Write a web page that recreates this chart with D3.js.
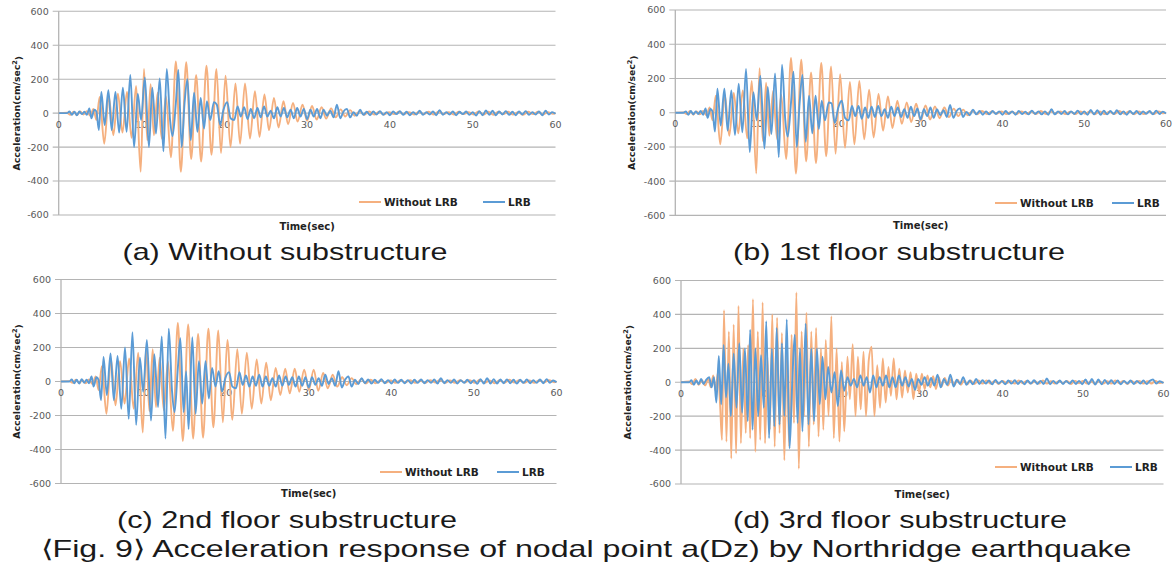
<!DOCTYPE html>
<html>
<head>
<meta charset="utf-8">
<script src="https://cdn.jsdelivr.net/npm/d3@7"></script>
<style>
  body { margin: 0; background: #fff; }
  svg { display: block; }
</style>
</head>
<body>
<svg width="1175" height="574"></svg>
<script>
// values: [time (sec), acceleration (cm/sec2)] at turning points
var aWithout = [[0,0],[1.0,2],[1.4,-10],[1.8,8],[2.2,-12],[2.6,10],[3.0,-8],[3.4,12],[3.8,-15],[4.2,25],[4.55,-40],[4.95,95],[5.5,-180],[6.05,100],[6.6,-130],[7.15,115],[7.7,-115],[8.25,125],[8.8,-145],[9.35,160],[9.9,-345],[10.3,260],[10.7,-160],[11.1,170],[11.5,-130],[11.95,120],[12.45,-150],[12.95,100],[13.55,-260],[14.15,305],[14.75,-345],[15.4,300],[16.0,-270],[16.6,225],[17.2,-285],[17.85,280],[18.45,-245],[19.05,260],[19.6,-235],[20.15,220],[20.75,-200],[21.35,175],[21.9,-180],[22.5,175],[23.1,-150],[23.7,130],[24.25,-140],[24.85,110],[25.4,-100],[26.0,90],[26.55,-85],[27.15,70],[27.7,-65],[28.3,60],[28.85,-50],[29.45,50],[30.0,-45],[30.6,42],[31.15,-38],[31.75,35],[32.3,-32],[32.9,28],[33.45,-25],[34.05,22],[34.6,-20],[35.2,18],[35.75,-15],[36.35,12],[36.9,-10],[37.5,10],[38.1,-8],[38.7,8],[39.3,-8],[39.9,6],[40.5,-6],[41.1,8],[41.7,-6],[42.3,6],[42.9,-8],[43.5,8],[44.1,-6],[44.7,8],[45.3,-8],[45.9,10],[46.5,-6],[47.1,6],[47.7,-8],[48.3,8],[48.9,-6],[49.5,6],[50.1,-8],[50.7,10],[51.3,-8],[51.9,8],[52.5,-10],[53.1,8],[53.7,-6],[54.3,8],[54.9,-8],[55.5,6],[56.1,-10],[56.7,8],[57.3,-6],[57.9,8],[58.5,-8],[59.1,6],[59.7,-4],[60,0]];
var aLRB = [[0,0],[1.0,0],[1.3,10],[1.6,-10],[1.9,8],[2.2,-12],[2.5,10],[2.8,-6],[3.1,8],[3.4,-10],[3.7,28],[3.95,-30],[4.3,20],[4.55,10],[4.85,-100],[5.15,125],[5.55,-70],[6.0,135],[6.4,-100],[6.85,125],[7.3,-115],[7.75,150],[8.2,-110],[8.65,225],[9.1,-200],[9.55,115],[9.95,-40],[10.4,210],[10.9,-200],[11.3,150],[11.75,-120],[12.2,205],[12.65,-225],[13.05,260],[13.45,-40],[13.75,-135],[14.15,60],[14.45,255],[14.85,-200],[15.2,60],[15.55,200],[15.95,-160],[16.35,120],[16.75,-110],[17.15,90],[17.55,-90],[17.9,70],[18.3,-40],[18.75,65],[19.1,50],[19.5,-70],[19.9,20],[20.35,65],[20.75,-30],[21.2,-40],[21.6,40],[22.0,-20],[22.4,35],[22.8,-35],[23.2,25],[23.6,-30],[24.0,30],[24.4,-25],[24.8,40],[25.2,-20],[25.6,15],[26.0,-30],[26.4,35],[26.8,-20],[27.2,30],[27.6,-25],[28.0,20],[28.4,-30],[28.8,30],[29.2,-20],[29.6,25],[30.0,-35],[30.4,20],[30.8,-20],[31.2,25],[31.6,-30],[32.0,20],[32.4,-15],[32.8,15],[33.2,-25],[33.6,50],[34.0,-30],[34.4,10],[34.8,25],[35.2,-25],[35.6,5],[36.0,-15],[36.4,20],[36.8,-10],[37.2,8],[37.6,-12],[38.0,10],[38.4,-8],[38.8,12],[39.2,-10],[39.6,6],[40.0,-12],[40.4,10],[40.8,-6],[41.2,12],[41.6,-10],[42.0,8],[42.4,-12],[42.8,6],[43.2,-8],[43.6,14],[44.0,-10],[44.4,6],[44.8,-8],[45.2,10],[45.6,-12],[46.0,18],[46.4,-10],[46.8,6],[47.2,-8],[47.6,10],[48.0,-12],[48.4,8],[48.8,-6],[49.2,10],[49.6,-10],[50.0,6],[50.4,-14],[50.8,12],[51.2,-12],[51.6,16],[52.0,-10],[52.4,14],[52.8,-12],[53.2,10],[53.6,-8],[54.0,12],[54.4,-10],[54.8,8],[55.2,-12],[55.6,10],[56.0,-8],[56.4,12],[56.8,-10],[57.2,6],[57.6,-8],[58.0,10],[58.4,-12],[58.8,14],[59.2,-8],[59.6,6],[60,-4]];

var bWithout = [[0,0],[1.0,2],[1.4,-8],[1.8,10],[2.2,-12],[2.6,8],[3.0,-10],[3.4,10],[3.8,-15],[4.2,30],[4.55,-45],[4.95,100],[5.5,-185],[6.05,105],[6.6,-135],[7.15,115],[7.7,-120],[8.25,130],[8.8,-150],[9.35,185],[9.9,-355],[10.3,260],[10.7,-165],[11.1,175],[11.5,-135],[11.95,125],[12.45,-155],[12.95,105],[13.55,-270],[14.15,320],[14.75,-355],[15.4,310],[16.0,-285],[16.6,235],[17.2,-295],[17.85,290],[18.45,-255],[19.05,270],[19.6,-240],[20.15,225],[20.75,-205],[21.35,180],[21.9,-185],[22.5,185],[23.1,-155],[23.7,135],[24.25,-145],[24.85,110],[25.4,-105],[26.0,95],[26.55,-90],[27.15,70],[27.7,-65],[28.3,60],[28.85,-55],[29.45,52],[30.0,-48],[30.6,42],[31.15,-40],[31.75,36],[32.3,-32],[32.9,30],[33.45,-26],[34.05,24],[34.6,-20],[35.2,18],[35.75,-15],[36.35,12],[36.9,-10],[37.5,10],[38.1,-8],[38.7,8],[39.3,-6],[39.9,8],[40.5,-8],[41.1,6],[41.7,-8],[42.3,8],[42.9,-6],[43.5,6],[44.1,-8],[44.7,10],[45.3,-8],[45.9,8],[46.5,-6],[47.1,8],[47.7,-8],[48.3,6],[48.9,-8],[49.5,8],[50.1,-6],[50.7,8],[51.3,-10],[51.9,8],[52.5,-8],[53.1,6],[53.7,-8],[54.3,10],[54.9,-6],[55.5,8],[56.1,-10],[56.7,8],[57.3,-8],[57.9,6],[58.5,-8],[59.1,8],[59.7,-4],[60,0]];
var bLRB = [[0,0],[1.0,0],[1.3,8],[1.6,-12],[1.9,10],[2.2,-10],[2.5,8],[2.8,-8],[3.1,10],[3.4,-12],[3.7,25],[3.95,-30],[4.3,22],[4.55,8],[4.85,-110],[5.15,140],[5.55,-75],[6.0,140],[6.4,-105],[6.85,130],[7.3,-130],[7.75,170],[8.2,-115],[8.65,255],[9.1,-230],[9.55,120],[9.95,-45],[10.4,215],[10.9,-210],[11.3,150],[11.75,-125],[12.2,230],[12.65,-260],[13.05,280],[13.45,-45],[13.75,-140],[14.15,60],[14.45,240],[14.85,-200],[15.2,55],[15.55,220],[15.95,-170],[16.35,100],[16.75,-120],[17.15,100],[17.55,-95],[17.9,70],[18.3,-45],[18.75,60],[19.1,55],[19.5,-60],[19.9,25],[20.35,70],[20.75,-30],[21.2,-45],[21.6,40],[22.0,-20],[22.4,40],[22.8,-35],[23.2,30],[23.6,-30],[24.0,35],[24.4,-25],[24.8,40],[25.2,-20],[25.6,20],[26.0,-30],[26.4,35],[26.8,-20],[27.2,30],[27.6,-25],[28.0,20],[28.4,-30],[28.8,35],[29.2,-20],[29.6,25],[30.0,-40],[30.4,20],[30.8,-20],[31.2,30],[31.6,-30],[32.0,20],[32.4,-15],[32.8,15],[33.2,-25],[33.6,45],[34.0,-30],[34.4,10],[34.8,25],[35.2,-25],[35.6,5],[36.0,-15],[36.4,18],[36.8,-10],[37.2,10],[37.6,-12],[38.0,8],[38.4,-10],[38.8,10],[39.2,-8],[39.6,8],[40.0,-12],[40.4,10],[40.8,-8],[41.2,8],[41.6,-12],[42.0,10],[42.4,-8],[42.8,6],[43.2,-10],[43.6,12],[44.0,-8],[44.4,8],[44.8,-10],[45.2,8],[45.6,-12],[46.0,20],[46.4,-10],[46.8,8],[47.2,-8],[47.6,10],[48.0,-10],[48.4,8],[48.8,-8],[49.2,12],[49.6,-10],[50.0,8],[50.4,-12],[50.8,16],[51.2,-10],[51.6,14],[52.0,-12],[52.4,12],[52.8,-10],[53.2,10],[53.6,-8],[54.0,14],[54.4,-10],[54.8,8],[55.2,-12],[55.6,10],[56.0,-8],[56.4,10],[56.8,-10],[57.2,8],[57.6,-6],[58.0,10],[58.4,-10],[58.8,12],[59.2,-8],[59.6,6],[60,-4]];

var cWithout = [[0,0],[1.0,2],[1.4,-8],[1.8,10],[2.2,-10],[2.6,8],[3.0,-10],[3.4,12],[3.8,-15],[4.2,30],[4.55,-50],[4.95,90],[5.5,-190],[6.05,130],[6.6,-140],[7.15,120],[7.7,-130],[8.25,135],[8.8,-160],[9.35,170],[9.9,-300],[10.3,195],[10.7,-175],[11.1,190],[11.5,-150],[11.95,140],[12.45,-170],[12.95,120],[13.55,-290],[14.15,345],[14.75,-350],[15.4,335],[16.0,-335],[16.6,280],[17.2,-330],[17.85,310],[18.45,-270],[19.05,300],[19.6,-240],[20.15,245],[20.75,-225],[21.35,190],[21.9,-190],[22.5,170],[23.1,-160],[23.7,130],[24.25,-130],[24.85,110],[25.4,-110],[26.0,80],[26.55,-80],[27.15,75],[27.7,-70],[28.3,75],[28.85,-60],[29.45,70],[30.0,-50],[30.6,70],[31.15,-55],[31.75,50],[32.3,-40],[32.9,40],[33.45,-30],[34.05,25],[34.6,-22],[35.2,20],[35.75,-16],[36.35,14],[36.9,-12],[37.5,10],[38.1,-10],[38.7,8],[39.3,-8],[39.9,6],[40.5,-8],[41.1,8],[41.7,-6],[42.3,8],[42.9,-8],[43.5,6],[44.1,-8],[44.7,8],[45.3,-6],[45.9,10],[46.5,-8],[47.1,6],[47.7,-8],[48.3,8],[48.9,-6],[49.5,8],[50.1,-8],[50.7,10],[51.3,-8],[51.9,6],[52.5,-10],[53.1,8],[53.7,-8],[54.3,10],[54.9,-6],[55.5,8],[56.1,-8],[56.7,6],[57.3,-8],[57.9,8],[58.5,-6],[59.1,8],[59.7,-4],[60,0]];
var cLRB = [[0,0],[1.0,0],[1.3,12],[1.6,-10],[1.9,10],[2.2,-12],[2.5,14],[2.8,-8],[3.1,10],[3.4,-10],[3.7,30],[3.95,-30],[4.3,25],[4.55,10],[4.85,-110],[5.15,145],[5.55,-80],[6.0,165],[6.4,-110],[6.85,150],[7.3,-160],[7.75,200],[8.2,-220],[8.65,290],[9.1,-255],[9.55,140],[9.95,-60],[10.4,245],[10.9,-230],[11.3,160],[11.75,-150],[12.2,265],[12.65,-335],[13.05,310],[13.45,-60],[13.75,-180],[14.15,80],[14.45,255],[14.85,-180],[15.15,60],[15.45,-280],[15.9,260],[16.3,-190],[16.7,120],[17.1,-130],[17.5,120],[17.9,-100],[18.3,80],[18.7,-30],[19.1,60],[19.5,-60],[19.9,20],[20.35,55],[20.75,-30],[21.2,-40],[21.6,55],[22.0,-20],[22.4,35],[22.8,-30],[23.2,30],[23.6,-25],[24.0,40],[24.4,-30],[24.8,30],[25.2,-25],[25.6,20],[26.0,-30],[26.4,35],[26.8,-25],[27.2,30],[27.6,-20],[28.0,25],[28.4,-30],[28.8,30],[29.2,-25],[29.6,25],[30.0,-35],[30.4,25],[30.8,-20],[31.2,20],[31.6,-25],[32.0,40],[32.4,-15],[32.8,20],[33.2,-25],[33.6,60],[34.0,-35],[34.4,10],[34.8,30],[35.2,-30],[35.6,10],[36.0,-15],[36.4,20],[36.8,-10],[37.2,12],[37.6,-12],[38.0,10],[38.4,-8],[38.8,14],[39.2,-10],[39.6,8],[40.0,-12],[40.4,12],[40.8,-8],[41.2,10],[41.6,-10],[42.0,8],[42.4,-12],[42.8,10],[43.2,-8],[43.6,12],[44.0,-10],[44.4,8],[44.8,-8],[45.2,12],[45.6,-12],[46.0,20],[46.4,-10],[46.8,8],[47.2,-8],[47.6,12],[48.0,-12],[48.4,8],[48.8,-8],[49.2,10],[49.6,-10],[50.0,8],[50.4,-14],[50.8,14],[51.2,-12],[51.6,20],[52.0,-12],[52.4,14],[52.8,-12],[53.2,12],[53.6,-10],[54.0,12],[54.4,-10],[54.8,10],[55.2,-12],[55.6,10],[56.0,-8],[56.4,12],[56.8,-10],[57.2,8],[57.6,-8],[58.0,12],[58.4,-10],[58.8,14],[59.2,-8],[59.6,6],[60,-4]];

var dWithout = [[0,0],[1.0,4],[1.4,-12],[1.8,20],[2.2,-15],[2.6,12],[3.0,-18],[3.4,20],[3.7,-30],[4.0,40],[4.3,-50],[4.6,60],[4.85,-120],[5.1,-340],[5.35,425],[5.65,-350],[5.95,300],[6.25,-450],[6.55,340],[6.85,-420],[7.15,450],[7.45,-360],[7.75,200],[8.05,-300],[8.35,220],[8.6,-330],[8.95,490],[9.25,-410],[9.55,300],[9.85,-340],[10.15,470],[10.45,-360],[10.75,150],[11.05,-280],[11.35,400],[11.65,-380],[11.95,380],[12.25,-300],[12.55,290],[12.85,-460],[13.15,180],[13.45,-380],[13.75,280],[14.05,-240],[14.35,530],[14.65,-510],[15.0,300],[15.3,-200],[15.6,410],[15.9,-380],[16.2,300],[16.5,-250],[16.8,320],[17.1,-320],[17.4,200],[17.7,-280],[18.0,250],[18.35,-200],[18.7,390],[19.0,-330],[19.35,200],[19.7,-350],[20.0,120],[20.3,-290],[20.7,150],[21.0,-100],[21.35,225],[21.7,-200],[22.0,150],[22.35,-160],[22.7,180],[23.0,-200],[23.35,130],[23.7,210],[24.05,-200],[24.4,100],[24.75,-150],[25.1,140],[25.45,-120],[25.8,90],[26.1,-80],[26.45,140],[26.8,-100],[27.15,80],[27.5,-90],[27.85,70],[28.2,-60],[28.55,60],[28.9,-100],[29.25,50],[29.6,-60],[29.95,50],[30.3,-40],[30.65,40],[31.0,-30],[31.35,35],[31.7,-40],[32.05,30],[32.4,-25],[32.8,25],[33.2,-20],[33.6,20],[34.0,-18],[34.4,15],[34.8,-15],[35.2,12],[35.6,-12],[36.0,10],[36.5,-10],[37.0,10],[37.5,-8],[38.0,10],[38.5,-8],[39.0,8],[39.5,-10],[40.0,8],[40.5,-6],[41.0,8],[41.5,-8],[42.0,10],[42.5,-6],[43.0,8],[43.5,-8],[44.0,6],[44.5,-8],[45.0,10],[45.5,-8],[46.0,6],[46.5,-8],[47.0,8],[47.5,-6],[48.0,8],[48.5,-10],[49.0,8],[49.5,-6],[50.0,8],[50.5,-8],[51.0,6],[51.5,-10],[52.0,8],[52.5,-8],[53.0,6],[53.5,-8],[54.0,10],[54.5,-6],[55.0,8],[55.5,-10],[56.0,8],[56.5,-6],[57.0,8],[57.5,-8],[58.0,6],[58.5,-8],[59.0,8],[59.5,-4],[60,0]];
var dLRB = [[0,0],[1.0,0],[1.3,12],[1.6,-15],[1.9,10],[2.2,-12],[2.5,20],[2.8,-10],[3.1,12],[3.5,30],[3.8,-30],[4.1,30],[4.4,-120],[4.7,155],[5.0,-130],[5.3,220],[5.6,-90],[5.9,110],[6.2,-200],[6.55,170],[6.9,-150],[7.25,230],[7.6,-180],[7.95,200],[8.3,-230],[8.6,310],[8.9,-280],[9.25,200],[9.6,-200],[9.95,160],[10.3,-150],[10.6,360],[10.95,-330],[11.3,200],[11.6,-260],[11.9,320],[12.25,-250],[12.55,230],[12.85,-200],[13.15,370],[13.5,-390],[13.85,20],[14.15,280],[14.5,-240],[14.8,200],[15.1,-290],[15.5,345],[15.85,-250],[16.2,200],[16.55,-230],[16.9,200],[17.25,-130],[17.6,150],[17.95,-100],[18.3,90],[18.7,-60],[19.1,60],[19.5,-140],[19.9,70],[20.3,-50],[20.7,30],[21.1,-20],[21.5,20],[21.9,-30],[22.3,40],[22.7,-20],[23.1,30],[23.5,-60],[23.9,40],[24.3,-30],[24.7,30],[25.1,-20],[25.5,40],[25.9,-30],[26.3,30],[26.7,-30],[27.1,40],[27.5,-20],[27.9,30],[28.3,-25],[28.7,20],[29.1,-45],[29.5,20],[29.9,-15],[30.3,30],[30.7,-20],[31.1,25],[31.5,-20],[31.9,45],[32.3,-30],[32.7,20],[33.1,-15],[33.5,45],[33.9,-25],[34.3,15],[34.7,-10],[35.1,30],[35.5,-15],[35.9,10],[36.3,-12],[36.7,20],[37.1,-10],[37.5,12],[37.9,-8],[38.3,10],[38.7,-12],[39.1,14],[39.5,-8],[39.9,8],[40.3,-12],[40.7,10],[41.1,-8],[41.5,12],[41.9,-10],[42.3,8],[42.7,-12],[43.1,10],[43.5,-8],[43.9,12],[44.3,-10],[44.7,8],[45.1,-10],[45.5,22],[45.9,-12],[46.3,8],[46.7,-8],[47.1,10],[47.5,-10],[47.9,8],[48.3,-8],[48.7,10],[49.1,-10],[49.5,8],[49.9,-12],[50.3,16],[50.7,-12],[51.1,20],[51.5,-14],[51.9,16],[52.3,-12],[52.7,14],[53.1,-10],[53.5,12],[53.9,-10],[54.3,10],[54.7,-12],[55.1,8],[55.5,-8],[55.9,10],[56.3,-10],[56.7,8],[57.1,-8],[57.5,10],[57.9,-10],[58.3,8],[58.7,16],[59.1,-8],[59.5,6],[60,-4]];

var yTicks = [-600, -400, -200, 0, 200, 400, 600];
var xTicks = [0, 10, 20, 30, 40, 50, 60];
var seriesNames = ["Without LRB", "LRB"];
var seriesColors = ["#f5b07f", "#5b9bd5"];
var captions = ["(a) Without substructure", "(b) 1st floor substructure", "(c) 2nd floor substructure", "(d) 3rd floor substructure"];
var figCaption = "\u27e8Fig. 9\u27e9 Acceleration response of nodal point a(Dz) by Northridge earthquake";

var svg = d3.select("svg");

// panel frames (pixels), one per sub-chart
var panels = [
    {w: aWithout, l: aLRB, left: 58.7, right: 555.5, top: 11.3, bottom: 215, ytX: 17, xtY: 226, legY: 202, legO: 359, legB: 483,
     cap: captions[0], capX: 285, capY: 260, capW: 325},
    {w: bWithout, l: bLRB, left: 675.3, right: 1166, top: 10, bottom: 215.4, ytX: 632, xtY: 225, legY: 203, legO: 995, legB: 1112,
     cap: captions[1], capX: 899, capY: 260, capW: 332},
    {w: cWithout, l: cLRB, left: 61, right: 556.5, top: 279.5, bottom: 483.5, ytX: 17, xtY: 493, legY: 472, legO: 380, legB: 497,
     cap: captions[2], capX: 287, capY: 528, capW: 340},
    {w: dWithout, l: dLRB, left: 681, right: 1163.5, top: 280.5, bottom: 484, ytX: 628, xtY: 494, legY: 467, legO: 995, legB: 1110,
     cap: captions[3], capX: 900, capY: 528, capW: 334}
];

var tickFont = "'DejaVu Sans', Verdana, sans-serif";
var capFont = "'Liberation Sans Narrow', 'Liberation Sans', Arial, sans-serif";

panels.forEach(function(p) {
    var x = d3.scaleLinear().domain([0, 60]).range([p.left, p.right]);
    var y = d3.scaleLinear().domain([-600, 600]).range([p.bottom, p.top]);
    var g = svg.append("g");

    // horizontal gridlines
    g.selectAll(".grid")
    .data(yTicks)
    .enter()
    .append("line")
    .attr("x1", p.left - 6)
    .attr("x2", p.right)
    .attr("y1", function(d) { return y(d); })
    .attr("y2", function(d) { return y(d); })
    .attr("stroke", "#b4b4b4")
    .attr("stroke-width", 1.1);

    // y axis
    g.append("line")
    .attr("x1", p.left).attr("x2", p.left)
    .attr("y1", p.top).attr("y2", p.bottom)
    .attr("stroke", "#b4b4b4")
    .attr("stroke-width", 1.3);

    g.selectAll(".ylab")
    .data(yTicks)
    .enter()
    .append("text")
    .attr("x", p.left - 10)
    .attr("y", function(d) { return y(d); })
    .attr("dy", "0.36em")
    .attr("text-anchor", "end")
    .style("font-family", tickFont)
    .style("font-size", "9.5px")
    .attr("fill", "#595959")
    .text(function(d) { return d; });

    g.selectAll(".xlab")
    .data(xTicks)
    .enter()
    .append("text")
    .attr("x", function(d) { return x(d); })
    .attr("y", y(0) + 14.5)
    .attr("text-anchor", "middle")
    .style("font-family", tickFont)
    .style("font-size", "9.5px")
    .attr("fill", "#595959")
    .text(function(d) { return d; });

    // series
    var line = d3.line()
    .x(function(d) { return x(d[0]); })
    .y(function(d) { return y(d[1]); })
    .curve(d3.curveMonotoneX);

    [p.w, p.l].forEach(function(s, i) {
        g.append("path")
        .datum(s)
        .attr("d", line)
        .attr("fill", "none")
        .attr("stroke", seriesColors[i])
        .attr("stroke-width", 1.9)
        .attr("stroke-linejoin", "round");
    });

    // axis titles
    var yt = g.append("text")
    .attr("transform", "translate(" + p.ytX + "," + ((p.top + p.bottom) / 2) + ")rotate(-90)")
    .attr("text-anchor", "middle")
    .attr("dy", "0.35em")
    .style("font-family", tickFont)
    .style("font-size", "9.3px")
    .style("font-weight", "bold")
    .attr("fill", "#222");
    yt.append("tspan").text("Acceleration(cm/sec");
    yt.append("tspan").attr("dy", "-0.45em").style("font-size", "6.5px").text("2");
    yt.append("tspan").attr("dy", "0.45em").text(")");

    g.append("text")
    .attr("x", (p.left + p.right) / 2)
    .attr("y", p.xtY)
    .attr("dy", "0.35em")
    .attr("text-anchor", "middle")
    .style("font-family", tickFont)
    .style("font-size", "10px")
    .style("font-weight", "bold")
    .attr("fill", "#222")
    .text("Time(sec)");

    // legend
    var legX = [p.legO, p.legB];
    seriesNames.forEach(function(name, i) {
        g.append("line")
        .attr("x1", legX[i]).attr("x2", legX[i] + 22)
        .attr("y1", p.legY).attr("y2", p.legY)
        .attr("stroke", seriesColors[i])
        .attr("stroke-width", 2);
        g.append("text")
        .attr("x", legX[i] + 25)
        .attr("y", p.legY)
        .attr("dy", "0.35em")
        .style("font-family", tickFont)
        .style("font-size", "10.5px")
        .style("font-weight", "bold")
        .attr("fill", "#222")
        .text(name);
    });

    // caption
    svg.append("text")
    .attr("x", p.capX)
    .attr("y", p.capY)
    .attr("text-anchor", "middle")
    .attr("textLength", p.capW)
    .attr("lengthAdjust", "spacingAndGlyphs")
    .style("font-family", capFont)
    .style("font-size", "24px")
    .attr("fill", "#1a1a1a")
    .text(p.cap);
});

svg.append("text")
.attr("x", 586)
.attr("y", 557)
.attr("text-anchor", "middle")
.attr("textLength", 1091)
.attr("lengthAdjust", "spacingAndGlyphs")
.style("font-family", capFont)
.style("font-size", "24px")
.attr("fill", "#1a1a1a")
.text(figCaption);
</script>
</body>
</html>
